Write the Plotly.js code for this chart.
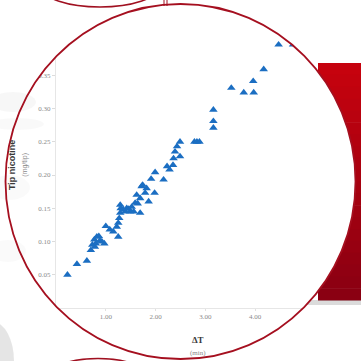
<!DOCTYPE html>
<html><head><meta charset="utf-8">
<script src="https://cdn.plot.ly/plotly-3.0.1.min.js"></script>
<style>html,body{margin:0;padding:0;background:#fff}#c{width:361px;height:361px}</style>
</head><body><div id="c"></div>
<script>
// Data: ΔT (min) vs tip nicotine (mg/tip)
const deltaT = [0.23,0.42,0.62,0.70,0.73,0.77,0.78,0.80,0.82,0.86,0.88,0.92,0.97,
  1.00,1.08,1.15,1.22,1.25,1.27,1.29,1.25,1.29,1.30,1.35,1.39,1.42,1.46,1.49,1.52,1.56,1.59,1.62,1.64,1.69,1.69,
  1.72,1.74,1.79,1.82,1.86,1.91,1.98,1.99,2.16,2.23,2.28,2.35,2.36,2.39,2.43,2.49,2.49,
  2.78,2.83,2.88,3.16,3.16,3.16,3.52,3.77,3.96,3.97,4.17,4.47,4.76];
const tipNicotine = [0.050,0.066,0.071,0.087,0.095,0.103,0.092,0.097,0.107,0.108,0.101,0.100,0.097,
  0.123,0.118,0.115,0.122,0.128,0.135,0.143,0.107,0.155,0.150,0.148,0.145,0.150,0.149,0.145,0.152,0.145,0.158,0.170,0.157,0.143,0.165,
  0.183,0.185,0.173,0.180,0.160,0.194,0.173,0.204,0.193,0.213,0.208,0.215,0.225,0.235,0.243,0.250,0.228,
  0.250,0.250,0.250,0.298,0.281,0.271,0.331,0.324,0.341,0.324,0.359,0.396,0.396];
const xTicks = [0,1,2,3,4,5];
const yTicks = [0,0.05,0.10,0.15,0.20,0.25,0.30,0.35,0.40];

// pixel -> paper helpers (plot area: left 56, top 42, 249x266)
const L=56, T=42, PW=249, PH=266, B=T+PH;
const X = px => (px-L)/PW, Y = py => (B-py)/PH;
const P = (px,py) => X(px).toFixed(5)+','+Y(py).toFixed(5);
const cx=180.5, cy=181.5, rx=175, ry=177.5, k=0.5523;
function ellPath(cx,cy,rx,ry){
  const kx=k*rx, ky=k*ry;
  return `M ${P(cx+rx,cy)} C ${P(cx+rx,cy+ky)} ${P(cx+kx,cy+ry)} ${P(cx,cy+ry)} `+
    `C ${P(cx-kx,cy+ry)} ${P(cx-rx,cy+ky)} ${P(cx-rx,cy)} `+
    `C ${P(cx-rx,cy-ky)} ${P(cx-kx,cy-ry)} ${P(cx,cy-ry)} `+
    `C ${P(cx+kx,cy-ry)} ${P(cx+rx,cy-ky)} ${P(cx+rx,cy)} Z`;
}
const circRight = y => { const q=1-Math.pow((y-cy)/ry,2); return q>0? cx+rx*Math.sqrt(q): cx; };

const shapes = [];
// white mask outside the circle
shapes.push({type:'path', xref:'paper', yref:'paper', layer:'above',
  path:`M ${P(-20,-20)} L ${P(400,-20)} L ${P(400,400)} L ${P(-20,400)} Z `+ellPath(cx,cy,rx,ry),
  fillrule:'evenodd', fillcolor:'#ffffff', line:{width:0}});
// faint grey blobs at left
[[-10,92,36,112,0.03],[-10,118,44,130,0.025],[-10,175,30,200,0.02],[-10,240,26,262,0.02]].forEach(b=>{
  shapes.push({type:'circle', xref:'paper', yref:'paper', layer:'above',
    x0:X(b[0]), x1:X(b[2]), y0:Y(b[1]), y1:Y(b[3]), fillcolor:`rgba(0,0,0,${b[4]})`, line:{width:0}});
});
shapes.push({type:'circle', xref:'paper', yref:'paper', layer:'above',
  x0:X(-28), x1:X(14), y0:Y(322), y1:Y(400), fillcolor:'rgba(0,0,0,0.10)', line:{width:0}});
// red band at right, graded, outside the circle
const rTop=63, rBot=300, N=20;
for(let i=0;i<N;i++){
  const ya=rTop+(rBot-rTop)*i/N, yb=rTop+(rBot-rTop)*(i+1)/N+0.6;
  const t=i/(N-1);
  const col=`rgb(${Math.round(198-60*t)},${Math.round(2-2*t)},${Math.round(14+4*t)})`;
  let p=`M ${P(370,ya)} L ${P(370,yb)}`;
  for(let s=0;s<=8;s++){ const y=yb-(yb-ya)*s/8; p+=` L ${P(Math.max(318,circRight(y)),y)}`; }
  p+=' Z';
  shapes.push({type:'path', xref:'paper', yref:'paper', layer:'above', path:p, fillcolor:col, line:{width:0}});
}
// shadow under red band
{ let p=`M ${P(370,300)} L ${P(370,305)}`;
  for(let s=0;s<=4;s++){ const y=305-5*s/4; p+=` L ${P(circRight(y),y)}`; }
  shapes.push({type:'path', xref:'paper', yref:'paper', layer:'above', path:p+' Z', fillcolor:'rgba(0,0,0,0.14)', line:{width:0}});
}
// decorative arcs
shapes.push({type:'circle', xref:'paper', yref:'paper', layer:'above',
  x0:X(42), x1:X(158), y0:Y(-32), y1:Y(7), line:{color:'#a01020', width:1.5}});
shapes.push({type:'circle', xref:'paper', yref:'paper', layer:'above',
  x0:X(48), x1:X(148), y0:Y(358.5), y1:Y(395), line:{color:'#a01020', width:1.5}});
shapes.push({type:'line', xref:'paper', yref:'paper', layer:'above',
  x0:X(164), x1:X(164), y0:Y(0), y1:Y(6), line:{color:'#a01020', width:1}});
shapes.push({type:'line', xref:'paper', yref:'paper', layer:'above',
  x0:X(167), x1:X(167), y0:Y(0), y1:Y(6), line:{color:'#a01020', width:1}});
// main circle outline
shapes.push({type:'path', xref:'paper', yref:'paper', layer:'above',
  path:ellPath(cx,cy,rx,ry), line:{color:'#a50f1f', width:1.8}});

const trace = {x:deltaT, y:tipNicotine, mode:'markers', type:'scatter',
  marker:{symbol:'triangle-up', size:7.5, color:'#1b6ec2', line:{width:0}}, cliponaxis:false};

const tickFont = {family:'Liberation Serif, serif', size:7, color:'#8a8a8a'};
const layout = {
  width:361, height:361, margin:{l:L, r:361-L-PW, t:T, b:361-B, pad:0},
  paper_bgcolor:'#ffffff', plot_bgcolor:'rgba(0,0,0,0)', showlegend:false,
  xaxis:{range:[0,5], tickvals:xTicks, tickformat:'.2f', showgrid:false, zeroline:false,
    showline:true, linecolor:'#e6e6e6', linewidth:1, ticks:'outside', ticklen:2, tickcolor:'#e0e0e0',
    tickfont:tickFont, fixedrange:true},
  yaxis:{range:[0,0.40], tickvals:yTicks, tickformat:'.2f', showgrid:false, zeroline:false,
    showline:true, linecolor:'#e6e6e6', linewidth:1, ticks:'outside', ticklen:3, tickcolor:'#dcdcdc',
    tickfont:tickFont, fixedrange:true},
  shapes:shapes,
  annotations:[
    {xref:'paper', yref:'paper', x:X(18), y:Y(165), xanchor:'center', yanchor:'middle', textangle:-90,
     showarrow:false, align:'center',
     text:"<b>Tip nicotine</b><br><span style='font-size:7px;color:#8a8a8a'>(mg/tip)</span>",
     font:{family:'Liberation Sans, Arial, sans-serif', size:9, color:'#3a3a3a'}},
    {xref:'paper', yref:'paper', x:X(198), y:Y(345.5), xanchor:'center', yanchor:'middle',
     showarrow:false, align:'center',
     text:"<b>ΔT</b><br><span style='font-size:7px;color:#8a8a8a'>(min)</span>",
     font:{family:'Liberation Serif, serif', size:9, color:'#3a3a3a'}}
  ]
};
Plotly.newPlot('c', [trace], layout, {displayModeBar:false, staticPlot:true});
</script></body></html>
